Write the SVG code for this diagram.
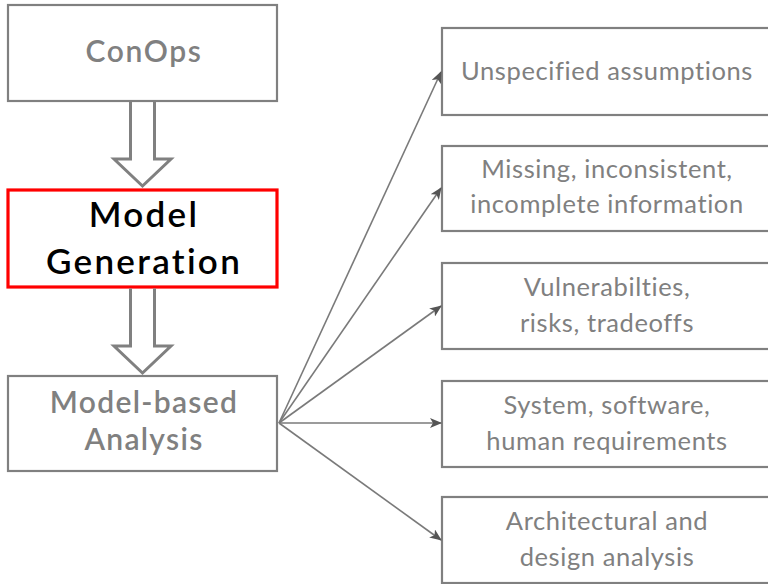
<svg xmlns="http://www.w3.org/2000/svg" width="768" height="584" viewBox="0 0 768 584">
<style>
.box{fill:#fff;stroke:#808080;stroke-width:2.2}
.red{fill:#fff;stroke:#ff0000;stroke-width:3.2}
.big{fill:none;stroke:#808080;stroke-width:3;stroke-linejoin:miter}
.lt{font-family:Lato,"Liberation Sans",sans-serif;font-weight:600;font-size:30px;fill:#808080;text-anchor:middle;letter-spacing:1.3px}
.mg{fill:#000;font-size:35px;letter-spacing:2.3px}
.rt{font-family:Lato,"Liberation Sans",sans-serif;font-size:25.5px;fill:#808080;text-anchor:middle;letter-spacing:0.6px}
.con{stroke:#7a7a7a;stroke-width:1.6;fill:none;marker-end:url(#ah)}
</style>
<defs>
<marker id="ah" markerWidth="12" markerHeight="10" viewBox="0 0 12 10" refX="11" refY="5" orient="auto" markerUnits="userSpaceOnUse">
<path d="M0,0 L12,5 L0,10 L3,5 Z" fill="#555"/>
</marker>
</defs>
<g id="conops"><rect class="box" x="8" y="5" width="269" height="96"/><text class="lt" x="144" y="62" style="letter-spacing:1.6px">ConOps</text></g>
<g id="modelgen"><rect class="red" x="8" y="190" width="269" height="97"/><text class="lt mg" x="144" y="227">Model</text><text class="lt mg" x="144" y="274">Generation</text></g>
<g id="analysis"><rect class="box" x="8" y="376" width="269" height="95"/><text class="lt" x="144" y="413">Model-based</text><text class="lt" x="144" y="450">Analysis</text></g>
<g id="r1"><rect class="box" x="442" y="28" width="340" height="87"/><text class="rt" x="607" y="80">Unspecified assumptions</text></g>
<g id="r2"><rect class="box" x="442" y="146" width="340" height="85"/><text class="rt" x="607" y="178">Missing, inconsistent,</text><text class="rt" x="607" y="213">incomplete information</text></g>
<g id="r3"><rect class="box" x="442" y="263" width="340" height="86"/><text class="rt" x="607" y="296">Vulnerabilties,</text><text class="rt" x="607" y="332">risks, tradeoffs</text></g>
<g id="r4"><rect class="box" x="442" y="381" width="340" height="86"/><text class="rt" x="607" y="414">System, software,</text><text class="rt" x="607" y="450">human requirements</text></g>
<g id="r5"><rect class="box" x="442" y="497" width="340" height="86"/><text class="rt" x="607" y="530">Architectural and</text><text class="rt" x="607" y="566">design analysis</text></g>
<g id="connectors">
<path class="big" d="M130.5,101 V159 H114 L142.5,186 L171,159 H154.5 V101"/>
<path class="big" d="M130.5,288.5 V346 H114 L142.5,373 L171,346 H154.5 V288.5"/>
<line class="con" x1="279" y1="423" x2="441" y2="72"/>
<line class="con" x1="279" y1="423" x2="441" y2="188"/>
<line class="con" x1="279" y1="423" x2="441" y2="306"/>
<line class="con" x1="279" y1="423" x2="441" y2="423"/>
<line class="con" x1="279" y1="423" x2="441" y2="540"/>
</g>
</svg>
